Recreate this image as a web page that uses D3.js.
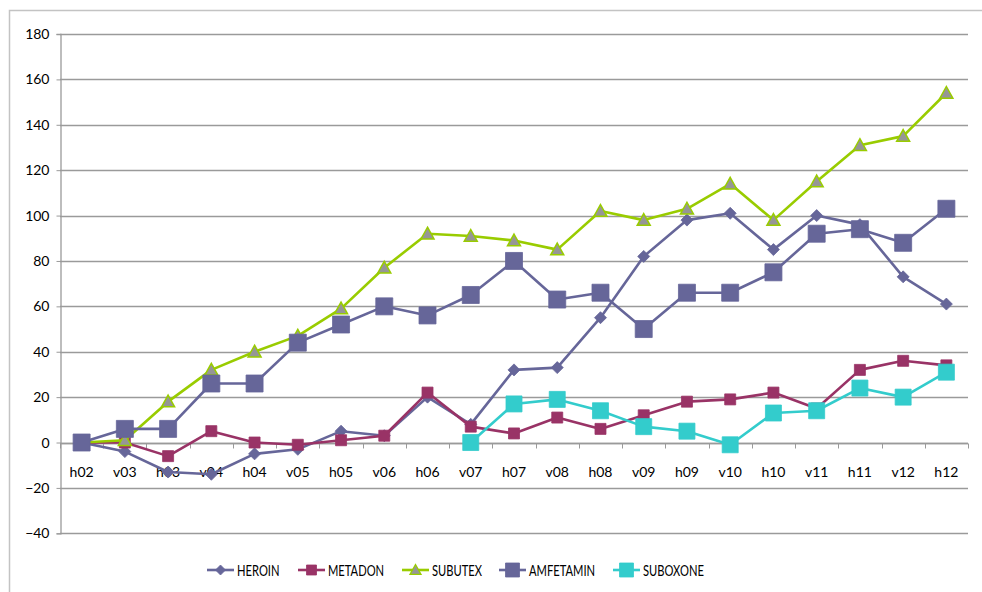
<!DOCTYPE html>
<html><head><meta charset="utf-8">
<script src="https://cdn.jsdelivr.net/npm/d3@7"></script>
<style>
html,body{margin:0;padding:0;background:#fff;}
svg{display:block;}
text{font-family:Lato,"Open Sans",sans-serif;fill:#000;}
</style></head><body>
<svg id="c" width="982" height="592"></svg>
<script>
const categories = ["h02","v03","h03","v04","h04","v05","h05","v06","h06","v07","h07","v08","h08","v09","h09","v10","h10","v11","h11","v12","h12"];
const yTicks = [-40,-20,0,20,40,60,80,100,120,140,160,180];
const heroin    = [0,-4,-13,-14,-5,-3,5,3,20,8,32,33,55,82,98,101,85,100,96,73,61];
const metadon   = [0,0,-6,5,0,-1,1,3,22,7,4,11,6,12,18,19,22,15,32,36,34];
const subutex   = [0,1,18,32,40,47,59,77,92,91,89,85,102,98,103,114,98,115,131,135,154];
const amfetamin = [0,6,6,26,26,44,52,60,56,65,80,63,66,50,66,66,75,92,94,88,103];
const suboxone  = [null,null,null,null,null,null,null,null,null,0,17,19,14,7,5,-1,13,14,24,20,31];
const seriesNames = ["HEROIN","METADON","SUBUTEX","AMFETAMIN","SUBOXONE"];

const series = [
  {name:seriesNames[0], values:heroin,    color:"#666699", marker:"diamond", size:12, fill:"#666699", stroke:"#666699"},
  {name:seriesNames[1], values:metadon,   color:"#993366", marker:"square",  size:11, fill:"#993366", stroke:"#993366"},
  {name:seriesNames[2], values:subutex,   color:"#99CC00", marker:"triangle",size:13, fill:"#969696", stroke:"#99CC00"},
  {name:seriesNames[3], values:amfetamin, color:"#666699", marker:"square",  size:17, fill:"#666699", stroke:"#666699"},
  {name:seriesNames[4], values:suboxone,  color:"#33CCCC", marker:"square",  size:16, fill:"#33CCCC", stroke:"#33CCCC"}
];

const svg = d3.select("#c");
// outer chart border
svg.append("rect").attr("x",9.5).attr("y",10.5).attr("width",1000).attr("height",600)
  .attr("fill","none").attr("stroke","#c3c3c3").attr("stroke-width",1.5);

const pLeft=60, pRight=968, pTop=34, pBottom=533.3;
const x = d3.scaleBand().domain(categories).range([pLeft,pRight]);
const y = d3.scaleLinear().domain([-40,180]).range([pBottom,pTop]);

// gridlines
svg.append("g").selectAll("line").data(yTicks).join("line")
  .attr("x1",pLeft).attr("x2",pRight)
  .attr("y1",d=>Math.round(y(d))+0.5).attr("y2",d=>Math.round(y(d))+0.5)
  .attr("stroke","#9a9a9a").attr("stroke-width",1.3);

// y axis
const yAxis = svg.append("g").attr("transform",`translate(${pLeft+0.5},0)`)
  .call(d3.axisLeft(y).tickValues(yTicks).tickSize(4).tickPadding(7));
yAxis.select(".domain").attr("stroke","#9a9a9a").attr("stroke-width",1.3);
yAxis.selectAll(".tick line").attr("stroke","#9a9a9a");
yAxis.selectAll(".tick text").attr("font-size",14).attr("font-family","Lato,'Open Sans',sans-serif").attr("fill","#000");

// x axis at zero
const y0 = Math.round(y(0))+0.5;
const xAxis = svg.append("g").attr("transform",`translate(0,${y0})`);
xAxis.append("line").attr("x1",pLeft).attr("x2",pRight).attr("stroke","#9a9a9a").attr("stroke-width",1.3);
const bounds = categories.map(c=>x(c)).concat([pRight]);
xAxis.selectAll("line.tk").data(bounds).join("line").attr("class","tk")
  .attr("x1",d=>Math.round(d)+0.5).attr("x2",d=>Math.round(d)+0.5).attr("y1",0).attr("y2",5)
  .attr("stroke","#9a9a9a");
xAxis.selectAll("text").data(categories).join("text")
  .attr("x",d=>x(d)+x.bandwidth()/2).attr("y",33)
  .attr("text-anchor","middle").attr("font-size",14).text(d=>d);

function markerPath(type,s){
  const h=s/2;
  if(type==="square") return `M${-h},${-h}H${h}V${h}H${-h}Z`;
  if(type==="diamond") return `M0,${-h}L${h},0L0,${h}L${-h},0Z`;
  if(type==="triangle") return `M0,${-h}L${h},${h*0.8}L${-h},${h*0.8}Z`;
}

const cx = c=>x(c)+x.bandwidth()/2;
const line = d3.line().defined(d=>d.v!=null).x(d=>cx(d.c)).y(d=>y(d.v));

series.forEach(s=>{
  const pts = categories.map((c,i)=>({c, v:s.values[i]}));
  svg.append("path").datum(pts).attr("d",line).attr("fill","none")
    .attr("stroke",s.color).attr("stroke-width",2.6).attr("stroke-linejoin","round");
  svg.append("g").selectAll("path").data(pts.filter(p=>p.v!=null)).join("path")
    .attr("transform",p=>`translate(${cx(p.c)},${y(p.v)})`)
    .attr("d",markerPath(s.marker,s.size))
    .attr("fill",s.fill).attr("stroke",s.stroke).attr("stroke-width",s.marker==="triangle"?1.5:0.8);
});

// legend
const legendX = [207,298,402,499,613];
const ly = 570;
const lg = svg.append("g");
series.forEach((s,i)=>{
  const g = lg.append("g").attr("transform",`translate(${legendX[i]},${ly})`);
  g.append("line").attr("x1",0).attr("x2",27).attr("stroke",s.color).attr("stroke-width",2.6);
  const ms = s.marker==="square" ? (i===1?10:14) : (s.marker==="triangle"?11:10);
  g.append("path").attr("transform","translate(13.5,0)").attr("d",markerPath(s.marker,ms))
    .attr("fill",s.fill).attr("stroke",s.stroke).attr("stroke-width",s.marker==="triangle"?1.3:0.8);
  g.append("text").attr("transform","translate(30,5.5) scale(0.77,1)").attr("font-size",14.5).text(s.name);
});
</script></body></html>
